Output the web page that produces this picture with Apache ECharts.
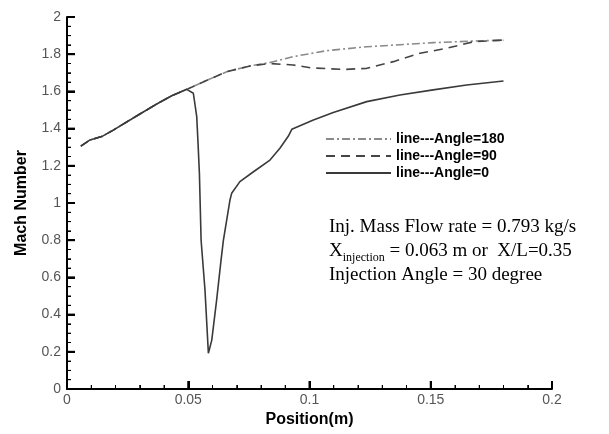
<!DOCTYPE html>
<html>
<head>
<meta charset="utf-8">
<script src="https://cdn.jsdelivr.net/npm/echarts@6/dist/echarts.min.js"></script>
<style>html,body{margin:0;padding:0;background:#fff}#c{width:609px;height:434px}</style>
</head>
<body>
<div id="c"></div>
<script>
// Shared upstream segment (all three angles coincide)
var sharedX = [0.0057, 0.0095, 0.0143, 0.0191, 0.0287, 0.037, 0.0432, 0.0494, 0.050];
var sharedM = [1.306, 1.339, 1.357, 1.392, 1.468, 1.532, 1.577, 1.611, 1.617];

// Angle = 0 (solid) after the shared segment
var a0X = [0.0521, 0.0535, 0.0541, 0.0546, 0.0553, 0.0569, 0.0583, 0.0597, 0.0617, 0.0635, 0.0645, 0.0672, 0.0679, 0.0713, 0.0769, 0.0837, 0.0878, 0.0913, 0.0927, 0.1016, 0.1098, 0.1236, 0.1373, 0.151, 0.1648, 0.18];
var a0M = [1.59, 1.464, 1.303, 1.16, 0.80, 0.532, 0.192, 0.263, 0.478, 0.69, 0.80, 1.016, 1.052, 1.115, 1.168, 1.231, 1.294, 1.36, 1.396, 1.446, 1.486, 1.545, 1.581, 1.608, 1.634, 1.656];

// Angle = 90 (dashed)
var a90X = [0.0548, 0.0659, 0.0755, 0.0837, 0.0933, 0.1003, 0.1141, 0.1236, 0.1346, 0.1456, 0.1566, 0.1676, 0.18];
var a90M = [1.643, 1.706, 1.737, 1.75, 1.742, 1.727, 1.718, 1.724, 1.76, 1.805, 1.832, 1.867, 1.876];

// Angle = 180 (dash-dot)
var a180X = [0.0548, 0.0659, 0.0755, 0.0837, 0.0933, 0.1071, 0.1236, 0.151, 0.1703, 0.18];
var a180M = [1.643, 1.706, 1.737, 1.755, 1.787, 1.819, 1.84, 1.862, 1.872, 1.875];

var seriesNames = ['line---Angle=180', 'line---Angle=90', 'line---Angle=0'];

// Tick values (inward ticks)
var xMajorTicks = [0, 0.05, 0.1, 0.15, 0.2];
var xMinorTicks = [0.01, 0.02, 0.03, 0.04, 0.06, 0.07, 0.08, 0.09, 0.11, 0.12, 0.13, 0.14, 0.16, 0.17, 0.18, 0.19];
var yMajorTicks = [0, 0.2, 0.4, 0.6, 0.8, 1, 1.2, 1.4, 1.6, 1.8, 2];
var yMinorTicks = [0.05, 0.1, 0.15, 0.25, 0.3, 0.35, 0.45, 0.5, 0.55, 0.65, 0.7, 0.75, 0.85, 0.9, 0.95,
                   1.05, 1.1, 1.15, 1.25, 1.3, 1.35, 1.45, 1.5, 1.55, 1.65, 1.7, 1.75, 1.85, 1.9, 1.95];

function pairs(xa, ma) {
  var out = [];
  for (var i = 0; i < xa.length; i++) out.push([xa[i], ma[i]]);
  return out;
}
var d0 = pairs(sharedX, sharedM).concat(pairs(a0X, a0M));
var d90 = pairs(sharedX, sharedM).concat(pairs(a90X, a90M));
var d180 = pairs(sharedX, sharedM).concat(pairs(a180X, a180M));

var chart = echarts.init(document.getElementById('c'), null, {renderer: 'canvas'});
var axisFont = 'Liberation Sans, Arial, sans-serif';
var serif = 'Liberation Serif, Times New Roman, serif';

chart.setOption({
  animation: false,
  backgroundColor: '#fff',
  grid: {left: 67, right: 57, top: 17, bottom: 45},
  xAxis: {
    type: 'value', min: 0, max: 0.2, interval: 0.05,
    name: 'Position(m)', nameLocation: 'middle', nameGap: 23,
    nameTextStyle: {fontFamily: axisFont, fontWeight: 'bold', fontSize: 16, color: '#000'},
    axisLine: {show: true, onZero: false, lineStyle: {color: '#000', width: 2}},
    axisTick: {show: true, inside: true, length: 8, lineStyle: {color: '#000', width: 2}},
    minorTick: {show: true, splitNumber: 5, length: 4, lineStyle: {color: '#000', width: 1}},
    axisLabel: {show: true, fontFamily: axisFont, fontSize: 14, color: '#555', margin: 4},
    splitLine: {show: false}
  },
  yAxis: {
    type: 'value', min: 0, max: 2, interval: 0.2,
    name: 'Mach Number', nameLocation: 'middle', nameGap: 37, nameRotate: 90,
    nameTextStyle: {fontFamily: axisFont, fontWeight: 'bold', fontSize: 16, color: '#000'},
    axisLine: {show: true, onZero: false, lineStyle: {color: '#000', width: 2}},
    axisTick: {show: true, inside: true, length: 8, lineStyle: {color: '#000', width: 2}},
    minorTick: {show: true, splitNumber: 4, length: 4, lineStyle: {color: '#000', width: 1}},
    axisLabel: {show: true, fontFamily: axisFont, fontSize: 14, color: '#555', margin: 6},
    splitLine: {show: false}
  },
  legend: {
    data: seriesNames,
    orient: 'vertical', left: 325, top: 132, padding: 0,
    itemWidth: 65, itemHeight: 14, itemGap: 3,
    itemStyle: {opacity: 0},
    textStyle: {fontFamily: axisFont, fontWeight: 'bold', fontSize: 14, color: '#000'}
  },
  series: [
    {name: seriesNames[0], type: 'line', data: d180, symbol: 'none',
     lineStyle: {color: '#8a8a8a', width: 1.6, type: [8, 3, 2, 3]}, itemStyle: {color: '#8a8a8a'}},
    {name: seriesNames[1], type: 'line', data: d90, symbol: 'none',
     lineStyle: {color: '#444', width: 1.6, type: [9, 6]}, itemStyle: {color: '#444'}},
    {name: seriesNames[2], type: 'line', data: d0, symbol: 'none',
     lineStyle: {color: '#3a3a3a', width: 1.6}, itemStyle: {color: '#3a3a3a'}}
  ],
  graphic: [
    {id: 'note', type: 'text', left: 329, top: 218, z: 100, style: {
      text: '{b|Inj. Mass Flow rate = 0.793 kg/s}\n{b|X}{s|injection}{b| = 0.063 m or  X/L=0.35}\n{b|Injection Angle = 30 degree}',
      fill: '#000',
      rich: {
        b: {fontFamily: serif, fontSize: 19, lineHeight: 24, fill: '#000'},
        s: {fontFamily: serif, fontSize: 12, lineHeight: 6, verticalAlign: 'bottom', fill: '#000'}
      }
    }}
  ]
});

// inward tick marks placed through the chart's own scales
var tickGraphics = [];
function addTick(id, v, isX, len, w) {
  var p = isX ? chart.convertToPixel({gridIndex: 0}, [v, 0]) : chart.convertToPixel({gridIndex: 0}, [0, v]);
  var shape = isX ? {x1: p[0], y1: p[1], x2: p[0], y2: p[1] - len}
                  : {x1: p[0], y1: p[1], x2: p[0] + len, y2: p[1]};
  tickGraphics.push({id: id, type: 'line', z: 100, silent: true, shape: shape,
                     style: {stroke: '#000', lineWidth: w}});
}
xMajorTicks.forEach(function (v, i) { addTick('xM' + i, v, true, 8, 2); });
xMinorTicks.forEach(function (v, i) { addTick('xm' + i, v, true, 4, 1); });
yMajorTicks.forEach(function (v, i) { addTick('yM' + i, v, false, 8, 2); });
yMinorTicks.forEach(function (v, i) { addTick('ym' + i, v, false, 4, 1); });
chart.setOption({graphic: tickGraphics});
</script>
</body>
</html>
